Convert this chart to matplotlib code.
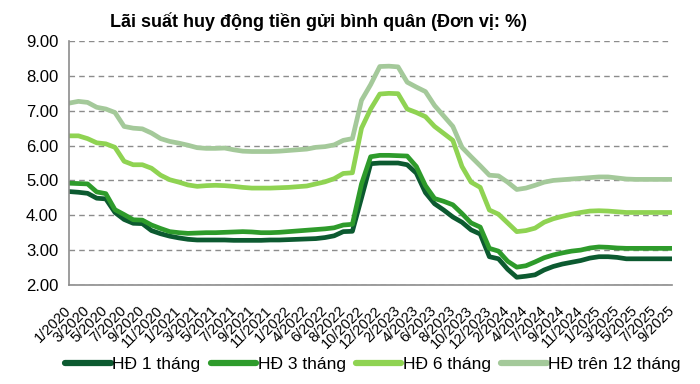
import numpy as np
import matplotlib
matplotlib.use("Agg")
import matplotlib.pyplot as plt

plt.rcParams["font.family"] = ["Liberation Sans", "DejaVu Sans"]

# tick labels (evenly spaced category axis)
tick_labels = ["1/2020", "3/2020", "5/2020", "7/2020", "9/2020", "11/2020",
               "1/2021", "3/2021", "5/2021", "7/2021", "9/2021", "11/2021",
               "1/2022", "4/2022", "6/2022", "8/2022", "10/2022", "12/2022",
               "2/2023", "4/2023", "6/2023", "8/2023", "10/2023", "12/2023",
               "2/2024", "4/2024", "7/2024", "9/2024", "11/2024",
               "1/2025", "3/2025", "5/2025", "7/2025", "9/2025"]

# series values, sampled every half label step
hd_1m = [4.68, 4.66, 4.63, 4.49, 4.47, 4.08, 3.88, 3.77, 3.76, 3.56,
         3.47, 3.40, 3.35, 3.31, 3.29, 3.29, 3.29, 3.29, 3.28, 3.28,
         3.28, 3.28, 3.29, 3.29, 3.30, 3.31, 3.32, 3.33, 3.36, 3.41,
         3.53, 3.54, 4.50, 5.48, 5.50, 5.50, 5.50, 5.45, 5.21, 4.65,
         4.33, 4.15, 3.95, 3.80, 3.58, 3.46, 2.81, 2.75, 2.45, 2.22,
         2.25, 2.29, 2.43, 2.53, 2.60, 2.65, 2.70, 2.77, 2.81, 2.81,
         2.79, 2.75, 2.75, 2.75, 2.75, 2.75, 2.75]
hd_3m = [4.92, 4.91, 4.90, 4.67, 4.62, 4.16, 4.02, 3.87, 3.86, 3.72,
         3.62, 3.53, 3.50, 3.48, 3.49, 3.50, 3.50, 3.51, 3.52, 3.53,
         3.52, 3.50, 3.50, 3.51, 3.53, 3.55, 3.57, 3.59, 3.61, 3.64,
         3.72, 3.74, 4.90, 5.68, 5.72, 5.72, 5.71, 5.70, 5.40, 4.85,
         4.48, 4.40, 4.30, 4.05, 3.78, 3.66, 3.05, 2.97, 2.68, 2.51,
         2.55, 2.66, 2.78, 2.86, 2.92, 2.97, 3.00, 3.06, 3.09, 3.08,
         3.06, 3.05, 3.05, 3.05, 3.05, 3.05, 3.05]
hd_6m = [6.28, 6.28, 6.20, 6.08, 6.05, 5.95, 5.55, 5.45, 5.45, 5.35,
         5.15, 5.02, 4.95, 4.87, 4.83, 4.85, 4.86, 4.85, 4.83, 4.80,
         4.78, 4.78, 4.78, 4.79, 4.80, 4.82, 4.84, 4.90, 4.96, 5.05,
         5.20, 5.22, 6.50, 7.05, 7.48, 7.50, 7.49, 7.05, 6.95, 6.83,
         6.55, 6.35, 6.15, 5.40, 4.95, 4.80, 4.15, 4.03, 3.78, 3.53,
         3.56, 3.63, 3.80, 3.90, 3.97, 4.03, 4.08, 4.12, 4.13, 4.12,
         4.10, 4.08, 4.08, 4.08, 4.08, 4.08, 4.08]
hd_12m = [7.22, 7.27, 7.24, 7.10, 7.05, 6.95, 6.55, 6.50, 6.48, 6.36,
          6.20, 6.12, 6.07, 6.01, 5.94, 5.92, 5.92, 5.93, 5.88, 5.84,
          5.83, 5.83, 5.83, 5.84, 5.86, 5.88, 5.90, 5.95, 5.97, 6.02,
          6.15, 6.20, 7.30, 7.75, 8.27, 8.28, 8.26, 7.82, 7.68, 7.55,
          7.15, 6.85, 6.55, 5.95, 5.68, 5.42, 5.15, 5.13, 4.95, 4.74,
          4.78, 4.86, 4.95, 5.00, 5.02, 5.04, 5.06, 5.08, 5.10, 5.10,
          5.07, 5.04, 5.03, 5.03, 5.03, 5.03, 5.03]

series = [("HĐ 1 tháng", hd_1m, "#0c5a30"),
          ("HĐ 3 tháng", hd_3m, "#2e9b2b"),
          ("HĐ 6 tháng", hd_6m, "#8fd352"),
          ("HĐ trên 12 tháng", hd_12m, "#a4c99a")]

x = np.arange(len(hd_1m)) / 2.0

fig = plt.figure(figsize=(7.0, 3.84), dpi=100)
ax = fig.add_axes([0.099, 0.258, 0.861, 0.635])

for name, vals, col in series:
    ax.plot(x, vals, color=col, lw=3.4, label=name, solid_capstyle="round")

ax.set_ylim(2, 9)
ax.set_xlim(0, len(tick_labels) - 1)
ax.set_yticks(np.arange(2, 10))
ax.set_yticklabels([f"{v:.2f}" for v in np.arange(2, 10)], fontsize=12)
ax.set_xticks(np.arange(len(tick_labels)))
ax.set_xticklabels(tick_labels, rotation=45, ha="right", va="center",
                   rotation_mode="anchor", fontsize=10.5)
ax.tick_params(axis="both", length=0)
ax.tick_params(axis="x", pad=17)
ax.tick_params(axis="y", pad=8)

ax.grid(axis="y", color="#8c8c8c", ls=(0, (4, 3)), lw=1)
ax.set_axisbelow(True)
for s in ["top", "right"]:
    ax.spines[s].set_visible(False)
for s in ["left", "bottom"]:
    ax.spines[s].set_color("#8c8c8c")
    ax.spines[s].set_linewidth(1.2)

fig.text(0.455, 0.943, "Lãi suất huy động tiền gửi bình quân (Đơn vị: %)",
         ha="center", va="center", fontsize=13, fontweight="bold")

leg = fig.legend(loc="center", bbox_to_anchor=(0.533, 0.05), ncol=4, frameon=False,
                 fontsize=12.5, handlelength=2.6, handletextpad=0.1, columnspacing=0.6)
for h in leg.get_lines():
    h.set_linewidth(4.5)

fig.savefig("out.png", dpi=100)
